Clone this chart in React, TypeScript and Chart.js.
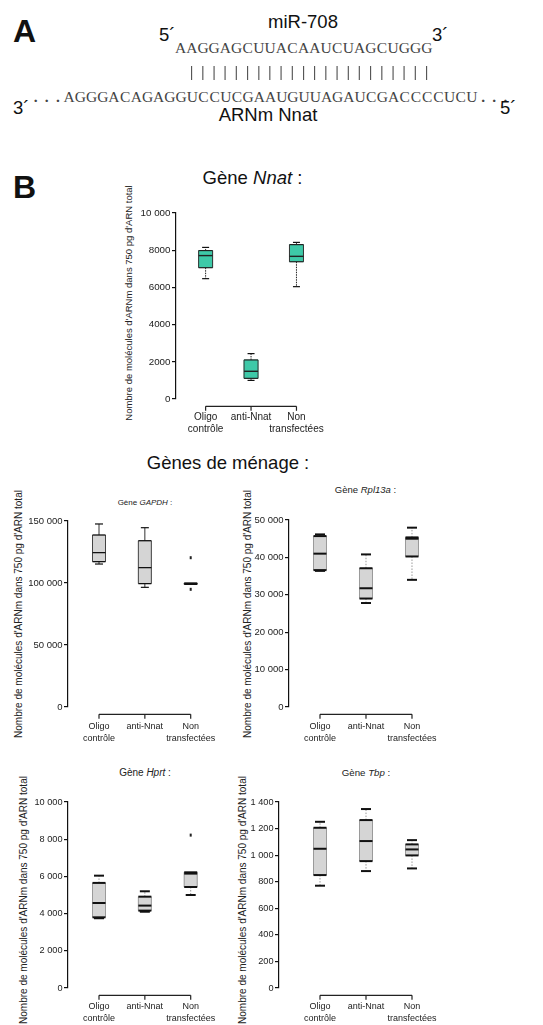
import React, { useEffect, useRef } from "react";
import { Chart, registerables } from "chart.js";

Chart.register(...registerables);

const FONT = "'Liberation Sans', Arial, sans-serif";
const SERIF = "'Liberation Serif', 'Times New Roman', serif";

// ---------- data ----------
const categories: string[][] = [["Oligo", "contrôle"], ["anti-Nnat"], ["Non", "transfectées"]];
const yTitle = "Nombre de molécules d'ARNm dans 750 pg d'ARN total";

const mirSeq = "AAGGAGCUUACAAUCUAGCUGGG";
const mrnaSeq = "AGGGACAGAGGUCCUCGAAUGUUAGAUCGACCCCUCU";
const pairCount = 22;

// Nnat
const nnatMin = [6470, 1000, 6040];
const nnatQ1 = [7060, 1110, 7380];
const nnatMed = [7710, 1490, 7670];
const nnatQ3 = [7980, 2100, 8300];
const nnatMax = [8150, 2440, 8420];
const nnatOut: number[][] = [[], [], []];
const nnatTicks = [0, 2000, 4000, 6000, 8000, 10000];
const nnatTickLabels = ["0", "2000", "4000", "6000", "8000", "10 000"];

// GAPDH
const gapdhMin = [115300, 96500, 98900];
const gapdhQ1 = [117200, 99500, 98900];
const gapdhMed = [124500, 112400, 99500];
const gapdhQ3 = [138700, 134100, 100000];
const gapdhMax = [147600, 144600, 100000];
const gapdhOut: number[][] = [[], [], [120400, 94900]];
const gapdhTicks = [0, 50000, 100000, 150000];
const gapdhTickLabels = ["0", "50 000", "100 000", "150 000"];

// Rpl13a
const rplMin = [36400, 27800, 34000];
const rplQ1 = [36600, 29000, 40250];
const rplMed = [41000, 31750, 45000];
const rplQ3 = [45700, 37100, 45350];
const rplMax = [46150, 40800, 47950];
const rplOut: number[][] = [[], [], []];
const rplTicks = [0, 10000, 20000, 30000, 40000, 50000];
const rplTickLabels = ["0", "10 000", "20 000", "30 000", "40 000", "50 000"];

// Hprt
const hprtMin = [3750, 4100, 5000];
const hprtQ1 = [3800, 4160, 5430];
const hprtMed = [4570, 4430, 6150];
const hprtQ3 = [5650, 4910, 6220];
const hprtMax = [6040, 5200, 6220];
const hprtOut: number[][] = [[], [], [8220]];
const hprtTicks = [0, 2000, 4000, 6000, 8000, 10000];
const hprtTickLabels = ["0", "2 000", "4 000", "6 000", "8 000", "10 000"];

// Tbp
const tbpMin = [770, 880, 900];
const tbpQ1 = [850, 955, 998];
const tbpMed = [1048, 1106, 1043];
const tbpQ3 = [1206, 1264, 1081];
const tbpMax = [1251, 1347, 1113];
const tbpOut: number[][] = [[], [], []];
const tbpTicks = [0, 200, 400, 600, 800, 1000, 1200, 1400];
const tbpTickLabels = ["0", "200", "400", "600", "800", "1 000", "1 200", "1 400"];

// ---------- styles ----------
type BoxStyle = {
  fill: string;
  boxW: number;
  capW: number;
  capWidth: number;
  capColor: string;
  whiskerColor: string;
  whiskerWidth: number;
  whiskerDash: number[];
  sideColor: string;
  sideWidth: number;
  edgeColor: string;
  edgeWidth: number;
  medWidth: number;
};

const tealStyle: BoxStyle = {
  fill: "#3ec9a8",
  boxW: 14,
  capW: 7,
  capWidth: 1.2,
  capColor: "#111",
  whiskerColor: "#222",
  whiskerWidth: 1,
  whiskerDash: [1.5, 1],
  sideColor: "#333",
  sideWidth: 1,
  edgeColor: "#222",
  edgeWidth: 1.2,
  medWidth: 1.4,
};

const gapdhStyle: BoxStyle = {
  fill: "#d5d5d5",
  boxW: 13,
  capW: 8,
  capWidth: 1.2,
  capColor: "#111",
  whiskerColor: "#333",
  whiskerWidth: 1,
  whiskerDash: [],
  sideColor: "#444",
  sideWidth: 1,
  edgeColor: "#111",
  edgeWidth: 1.3,
  medWidth: 1.3,
};

const hkStyle: BoxStyle = {
  fill: "#d5d5d5",
  boxW: 13,
  capW: 10,
  capWidth: 2,
  capColor: "#111",
  whiskerColor: "#999",
  whiskerWidth: 1,
  whiskerDash: [1.5, 1.5],
  sideColor: "#9a9a9a",
  sideWidth: 1,
  edgeColor: "#111",
  edgeWidth: 2,
  medWidth: 2,
};

const boxPlugin = {
  id: "boxplot",
  afterDatasetsDraw(chart: any, _args: any, o: any) {
    const { ctx } = chart;
    const xs = chart.scales.x;
    const ys = chart.scales.y;
    const S: BoxStyle = o.style;
    const line = (x1: number, y1: number, x2: number, y2: number) => {
      ctx.beginPath();
      ctx.moveTo(x1, y1);
      ctx.lineTo(x2, y2);
      ctx.stroke();
    };
    ctx.save();
    for (let i = 0; i < o.q1.length; i++) {
      const cx = xs.getPixelForValue(i);
      const h = S.boxW / 2;
      const yq1 = ys.getPixelForValue(o.q1[i]);
      const yq3 = ys.getPixelForValue(o.q3[i]);
      const ymed = ys.getPixelForValue(o.med[i]);
      const ymin = ys.getPixelForValue(o.min[i]);
      const ymax = ys.getPixelForValue(o.max[i]);
      ctx.setLineDash(S.whiskerDash);
      ctx.strokeStyle = S.whiskerColor;
      ctx.lineWidth = S.whiskerWidth;
      if (o.max[i] > o.q3[i]) line(cx, yq3, cx, ymax);
      if (o.min[i] < o.q1[i]) line(cx, yq1, cx, ymin);
      ctx.setLineDash([]);
      ctx.strokeStyle = S.capColor;
      ctx.lineWidth = S.capWidth;
      if (o.max[i] > o.q3[i]) line(cx - S.capW / 2, ymax, cx + S.capW / 2, ymax);
      if (o.min[i] < o.q1[i]) line(cx - S.capW / 2, ymin, cx + S.capW / 2, ymin);
      ctx.strokeStyle = S.sideColor;
      ctx.lineWidth = S.sideWidth;
      line(cx - h, yq3, cx - h, yq1);
      line(cx + h, yq3, cx + h, yq1);
      ctx.strokeStyle = S.edgeColor;
      ctx.lineWidth = S.edgeWidth;
      line(cx - h, yq3, cx + h, yq3);
      line(cx - h, yq1, cx + h, yq1);
      ctx.lineWidth = S.medWidth;
      line(cx - h, ymed, cx + h, ymed);
      ctx.fillStyle = "#222";
      for (const v of o.out[i]) {
        const yy = ys.getPixelForValue(v);
        ctx.fillRect(cx - 1, yy - 1.5, 2, 3);
      }
    }
    const yb = chart.chartArea.bottom + o.axisOffset;
    ctx.strokeStyle = "#222";
    ctx.lineWidth = 1.2;
    const n = o.q1.length;
    line(xs.getPixelForValue(0), yb, xs.getPixelForValue(n - 1), yb);
    for (let i = 0; i < n; i++) {
      const x = xs.getPixelForValue(i);
      line(x, yb, x, yb + 4.5);
    }
    ctx.restore();
  },
};

type Spec = {
  axisX: number;
  top: number;
  bottom: number;
  cat0: number;
  cat2: number;
  yMax: number;
  ticks: number[];
  tickLabels: string[];
  tickSize: number;
  catSize: number;
  catPad: number;
  min: number[];
  q1: number[];
  med: number[];
  q3: number[];
  max: number[];
  out: number[][];
  style: BoxStyle;
};

const YW = 72;
const PADT = 12;
const XH = 40;

function BoxChart({ s }: { s: Spec }) {
  const ref = useRef<HTMLCanvasElement>(null);
  const axL = Math.round(s.axisX);
  const topR = Math.round(s.top);
  const plotH = Math.round(s.bottom) - topR;
  const left = axL - YW;
  const ctop = topR - PADT;
  const chartW = Math.round(s.cat2 + 30 - axL);
  const W = YW + chartW;
  const H = PADT + plotH + XH;
  const sp = (s.cat2 - s.cat0) / 2;
  const xMin = -(s.cat0 - axL) / sp;
  const xMax = 2 + (axL + chartW - s.cat2) / sp;

  useEffect(() => {
    const cfg: any = {
      type: "bar",
      data: {
        datasets: [
          {
            data: s.q1.map((v, i) => ({ x: i, y: [v, s.q3[i]] })),
            backgroundColor: s.style.fill,
            borderWidth: 0,
            barThickness: s.style.boxW,
          },
        ],
      },
      options: {
        responsive: false,
        maintainAspectRatio: false,
        animation: false,
        events: [],
        devicePixelRatio: 1,
        layout: { padding: { top: PADT, left: 0, right: 0, bottom: 0 } },
        plugins: {
          legend: { display: false },
          tooltip: { enabled: false },
          title: { display: false },
          boxplot: {
            min: s.min,
            q1: s.q1,
            med: s.med,
            q3: s.q3,
            max: s.max,
            out: s.out,
            style: s.style,
            axisOffset: 7.3,
          },
        },
        scales: {
          x: {
            type: "linear",
            min: xMin,
            max: xMax,
            offset: false,
            afterFit: (sc: any) => {
              sc.height = XH;
            },
            afterBuildTicks: (sc: any) => {
              sc.ticks = categories.map((_, i) => ({ value: i }));
            },
            ticks: {
              autoSkip: false,
              maxRotation: 0,
              minRotation: 0,
              padding: s.catPad,
              color: "#222",
              font: { family: FONT, size: s.catSize, lineHeight: "12px" },
              callback: (_v: any, i: number) => categories[i],
            },
            grid: { display: false },
            border: { display: false },
          },
          y: {
            type: "linear",
            min: 0,
            max: s.yMax,
            afterFit: (sc: any) => {
              sc.width = YW;
            },
            afterBuildTicks: (sc: any) => {
              sc.ticks = s.ticks.map((v) => ({ value: v }));
            },
            ticks: {
              padding: 1.5,
              color: "#222",
              font: { family: FONT, size: s.tickSize },
              callback: (_v: any, i: number) => s.tickLabels[i],
            },
            grid: {
              display: true,
              drawOnChartArea: false,
              drawTicks: true,
              tickLength: 4,
              color: "#111",
              lineWidth: 1.2,
            },
            border: { display: true, color: "#111", width: 1.2 },
          },
        },
      },
      plugins: [boxPlugin],
    };
    const chart = new Chart(ref.current as HTMLCanvasElement, cfg);
    return () => chart.destroy();
  }, []);

  return (
    <canvas
      ref={ref}
      width={W}
      height={H}
      style={{ position: "absolute", left, top: ctop, width: W, height: H }}
    />
  );
}

function T(props: {
  x: number;
  y: number;
  size: number;
  align?: "left" | "center" | "right";
  weight?: number;
  color?: string;
  children: React.ReactNode;
}) {
  const { x, y, size, align = "left", weight = 400, color = "#111" } = props;
  const tx = align === "center" ? "translateX(-50%)" : align === "right" ? "translateX(-100%)" : "none";
  return (
    <div
      style={{
        position: "absolute",
        left: x,
        top: y - 0.8465 * size,
        fontSize: size,
        lineHeight: size + "px",
        fontFamily: FONT,
        fontWeight: weight,
        color,
        whiteSpace: "pre",
        transform: tx,
      }}
    >
      {props.children}
    </div>
  );
}

// monospaced-cell sequence text (fixed 11.2px advance per character)
function Seq(props: { x: number; y: number; text: string; size: number; color: string; family?: string; gray?: boolean }) {
  const cell = 11.2;
  const { x, y, text, size, color, family = SERIF, gray = false } = props;
  const asc = family === SERIF ? 0.8375 : 0.8465;
  return (
    <div
      style={{
        position: "absolute",
        left: Math.round(x),
        top: Math.round(y - asc * size),
        height: size,
        fontSize: size,
        lineHeight: size + "px",
        fontFamily: family,
        color,
        whiteSpace: "pre",
        display: "flex",
        opacity: gray ? 0.99 : 1,
        willChange: gray ? "transform" : "auto",
      }}
    >
      {text.split("").map((c, i) => (
        <span
          key={i}
          style={{
            display: "inline-block",
            width: cell,
            textAlign: "center",
            fontWeight: c === "." ? 700 : 400,
          }}
        >
          {c}
        </span>
      ))}
    </div>
  );
}

function R({ cx, cy, size }: { cx: number; cy: number; size: number }) {
  return (
    <div
      style={{
        position: "absolute",
        left: cx,
        top: cy,
        fontSize: size,
        lineHeight: size + "px",
        fontFamily: FONT,
        color: "#222",
        whiteSpace: "pre",
        transform: "translate(-50%,-50%) rotate(-90deg)",
      }}
    >
      {yTitle}
    </div>
  );
}

const nnatSpec: Spec = {
  axisX: 175.5, top: 212.7, bottom: 398.7, cat0: 206, cat2: 298,
  yMax: 10000, ticks: nnatTicks, tickLabels: nnatTickLabels, tickSize: 9.8, catSize: 10, catPad: 4.3,
  min: nnatMin, q1: nnatQ1, med: nnatMed, q3: nnatQ3, max: nnatMax, out: nnatOut, style: tealStyle,
};
const gapdhSpec: Spec = {
  axisX: 68.3, top: 520.7, bottom: 706.7, cat0: 99, cat2: 190.7,
  yMax: 150000, ticks: gapdhTicks, tickLabels: gapdhTickLabels, tickSize: 9.5, catSize: 9, catPad: 5.5,
  min: gapdhMin, q1: gapdhQ1, med: gapdhMed, q3: gapdhQ3, max: gapdhMax, out: gapdhOut, style: gapdhStyle,
};
const rplSpec: Spec = {
  axisX: 289.3, top: 520.3, bottom: 706.7, cat0: 320, cat2: 412,
  yMax: 50000, ticks: rplTicks, tickLabels: rplTickLabels, tickSize: 9.5, catSize: 9, catPad: 5.5,
  min: rplMin, q1: rplQ1, med: rplMed, q3: rplQ3, max: rplMax, out: rplOut, style: hkStyle,
};
const hprtSpec: Spec = {
  axisX: 67.7, top: 802, bottom: 988, cat0: 99, cat2: 190.7,
  yMax: 10000, ticks: hprtTicks, tickLabels: hprtTickLabels, tickSize: 9.2, catSize: 9, catPad: 5,
  min: hprtMin, q1: hprtQ1, med: hprtMed, q3: hprtQ3, max: hprtMax, out: hprtOut, style: hkStyle,
};
const tbpSpec: Spec = {
  axisX: 279.3, top: 802, bottom: 987.7, cat0: 320, cat2: 412,
  yMax: 1400, ticks: tbpTicks, tickLabels: tbpTickLabels, tickSize: 9.2, catSize: 9, catPad: 5,
  min: tbpMin, q1: tbpQ1, med: tbpMed, q3: tbpQ3, max: tbpMax, out: tbpOut, style: hkStyle,
};

export default function App() {
  const seqSize = 15.5;
  return (
    <div
      style={{
        position: "absolute",
        left: 0,
        top: 0,
        width: 543,
        height: 1025,
        overflow: "hidden",
        background: "#fff",
        fontFamily: FONT,
      }}
    >
      {/* Panel A */}
      <T x={13} y={41.7} size={32} weight={700}>A</T>
      <T x={303} y={28.3} size={18.5} align="center">miR-708</T>
      <T x={159} y={41.7} size={18.5}>5´</T>
      <Seq x={175} y={53.3} text={mirSeq} size={seqSize} color="#444" />
      <T x={432} y={41.7} size={18.5}>3´</T>
      <Seq x={186} y={77.3} text={"|".repeat(pairCount)} size={14} color="#555" family={FONT} gray />
      <T x={13} y={115} size={18.5}>3´</T>
      <Seq x={29.7} y={101.7} text={"..." + mrnaSeq + "..."} size={seqSize} color="#444" />
      <T x={500} y={115} size={18.5}>5´</T>
      <T x={268} y={121.7} size={18.5} align="center">ARNm Nnat</T>

      {/* Panel B */}
      <T x={13} y={198} size={32} weight={700}>B</T>
      <T x={252.5} y={185} size={18.5} align="center">
        Gène <i>Nnat</i> :
      </T>
      <T x={228} y={470} size={18.5} align="center">Gènes de ménage :</T>
      <T x={145} y={505.7} size={8} align="center" color="#222">
        Gène <i>GAPDH</i> :
      </T>
      <T x={365.5} y={493.5} size={9.5} align="center" color="#222">
        Gène <i>Rpl13a</i> :
      </T>
      <T x={145} y={776.5} size={10} align="center" color="#222">
        Gène <i>Hprt</i> :
      </T>
      <T x={366} y={776.3} size={9.7} align="center" color="#222">
        Gène <i>Tbp</i> :
      </T>

      <R cx={129} cy={302.5} size={9.5} />
      <R cx={19} cy={614} size={10} />
      <R cx={248.3} cy={614} size={10} />
      <R cx={24} cy={900} size={10} />
      <R cx={242.5} cy={900} size={10} />

      <BoxChart s={nnatSpec} />
      <BoxChart s={gapdhSpec} />
      <BoxChart s={rplSpec} />
      <BoxChart s={hprtSpec} />
      <BoxChart s={tbpSpec} />
    </div>
  );
}
